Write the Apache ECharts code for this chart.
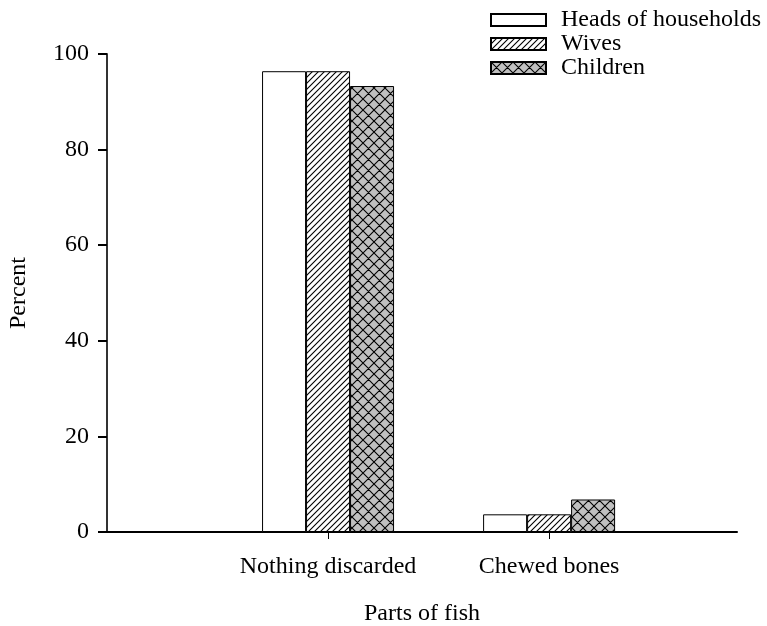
<!DOCTYPE html>
<html>
<head>
<meta charset="utf-8">
<script src="https://cdn.jsdelivr.net/npm/echarts@6/dist/echarts.min.js"></script>
<style>
    html, body { margin: 0; padding: 0; background: #fff; }
    #chart { width: 767px; height: 626px; }
</style>
</head>
<body>
<div id="chart"></div>
<script>
    var categories = ['Nothing discarded', 'Chewed bones'];
    var categoryPos = [1, 2];
    var heads = [96.4, 3.7];
    var wives = [96.4, 3.7];
    var children = [93.3, 6.8];
    var yTicks = [0, 20, 40, 60, 80, 100];

    // hatch tiles for the bar fills
    function makeTile(size, bg, cross) {
        var c = document.createElement('canvas');
        c.width = size;
        c.height = size;
        var ctx = c.getContext('2d');
        ctx.fillStyle = bg;
        ctx.fillRect(0, 0, size, size);
        ctx.strokeStyle = '#000';
        ctx.lineWidth = 1.1;
        ctx.beginPath();
        ctx.moveTo(-1, size + 1); ctx.lineTo(size + 1, -1);
        ctx.moveTo(-1, 1); ctx.lineTo(1, -1);
        ctx.moveTo(size - 1, size + 1); ctx.lineTo(size + 1, size - 1);
        if (cross) {
            ctx.moveTo(-1, -1); ctx.lineTo(size + 1, size + 1);
            ctx.moveTo(size - 1, -1); ctx.lineTo(size + 1, 1);
            ctx.moveTo(-1, size - 1); ctx.lineTo(1, size + 1);
        }
        ctx.stroke();
        return c;
    }

    function pairs(vals) {
        return vals.map(function (v, i) { return [categoryPos[i], v]; });
    }

    var font = 'Liberation Serif';
    var fs = 24;
    var chart = echarts.init(document.getElementById('chart'));

    var barStyle = { borderColor: '#000', borderWidth: 1 };

    chart.setOption({
        animation: false,
        textStyle: { fontFamily: font, color: '#000' },
        grid: { left: 107, right: 30, top: 54, bottom: 94, outerBoundsMode: 'none' },
        legend: {
            orient: 'vertical',
            left: 485,
            top: 3,
            icon: 'rect',
            itemWidth: 55,
            itemHeight: 12,
            itemGap: 0,
            textStyle: { fontFamily: font, fontSize: fs, lineHeight: 24, color: '#000', padding: [0, 0, 0, 10] },
            data: ['Heads of households', 'Wives', 'Children']
        },
        xAxis: {
            type: 'value',
            min: 0,
            max: 2.85,
            name: 'Parts of fish',
            nameLocation: 'middle',
            nameGap: 70,
            nameTextStyle: { fontFamily: font, fontSize: fs, color: '#000' },
            splitLine: { show: false },
            axisLine: { onZero: false, lineStyle: { color: '#000', width: 2 } },
            axisTick: { customValues: categoryPos, length: 7, lineStyle: { color: '#000' } },
            axisLabel: {
                customValues: categoryPos,
                margin: 23,
                fontFamily: font, fontSize: fs, color: '#000',
                formatter: function (v) { return categories[Math.round(v) - 1] || ''; }
            }
        },
        yAxis: {
            type: 'value',
            min: yTicks[0],
            max: yTicks[yTicks.length - 1],
            interval: 20,
            name: 'Percent',
            nameLocation: 'middle',
            nameGap: 76,
            nameTextStyle: { fontFamily: font, fontSize: fs, color: '#000' },
            splitLine: { show: false },
            axisLine: { show: true, onZero: false, lineStyle: { color: '#333', width: 2 } },
            axisTick: { show: true, length: 9, lineStyle: { color: '#000', width: 2 } },
            axisLabel: { margin: 18, fontFamily: font, fontSize: fs, color: '#000' }
        },
        series: [
            {
                name: 'Heads of households',
                type: 'bar',
                barWidth: 44,
                barGap: '0%',
                itemStyle: Object.assign({ color: '#fff' }, barStyle),
                data: pairs(heads)
            },
            {
                name: 'Wives',
                type: 'bar',
                barWidth: 44,
                barGap: '0%',
                itemStyle: Object.assign({ color: { image: makeTile(6, '#fff', false), repeat: 'repeat' } }, barStyle),
                data: pairs(wives)
            },
            {
                name: 'Children',
                type: 'bar',
                barWidth: 44,
                barGap: '0%',
                itemStyle: Object.assign({ color: { image: makeTile(11, '#c0c0c0', true), repeat: 'repeat' } }, barStyle),
                data: pairs(children)
            }
        ]
    });
</script>
</body>
</html>
